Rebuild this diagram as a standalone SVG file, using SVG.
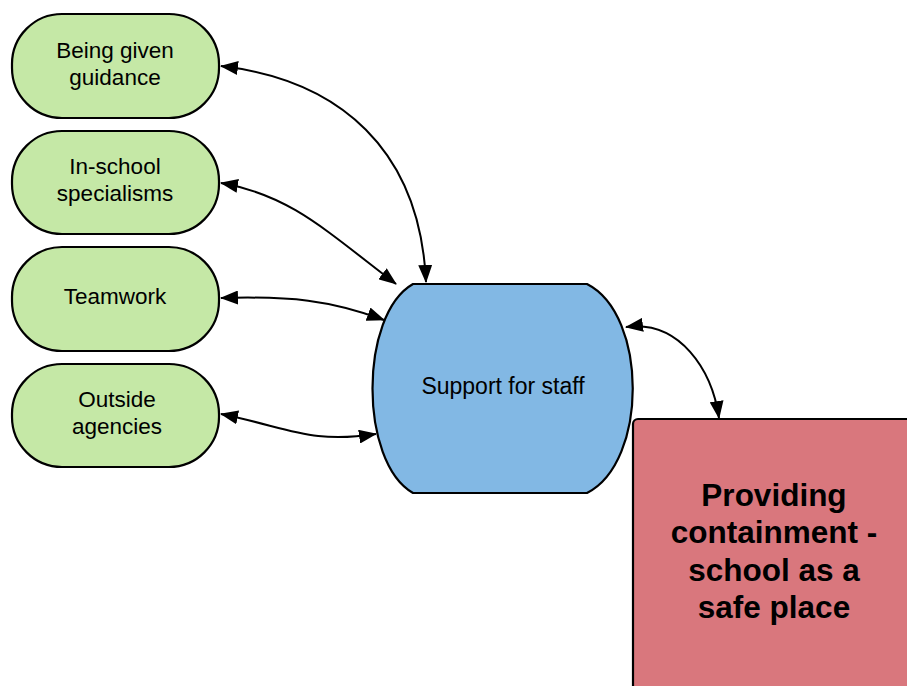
<svg xmlns="http://www.w3.org/2000/svg" width="907" height="686" viewBox="0 0 907 686">
<style>
.g{fill:#c5e8a6;stroke:#000;stroke-width:2.2}
.b{fill:#82b8e4;stroke:#000;stroke-width:2.2;stroke-linejoin:round}
.r{fill:#d9777d;stroke:#000;stroke-width:2.2}
.t{font-family:"Liberation Sans",Arial,sans-serif;font-size:22.5px;fill:#000;text-anchor:middle}
.ts{font-family:"Liberation Sans",Arial,sans-serif;font-size:23px;fill:#000;text-anchor:middle}
.tb{font-family:"Liberation Sans",Arial,sans-serif;font-size:31.5px;font-weight:bold;fill:#000;text-anchor:middle}
.c{fill:none;stroke:#000;stroke-width:2}
</style>
<defs>
<marker id="ah" markerUnits="userSpaceOnUse" markerWidth="18" markerHeight="14" refX="17" refY="7" orient="auto-start-reverse" viewBox="0 0 18 14">
<path d="M0,0 L18,7 L0,14 z" fill="#000"/>
</marker>
</defs>
<g id="connectors">
<path class="c" d="M221,66 C340,80 420,150 426,282" marker-start="url(#ah)" marker-end="url(#ah)"/>
<path class="c" d="M221,183 C290,195 325,230 396,284" marker-start="url(#ah)" marker-end="url(#ah)"/>
<path class="c" d="M221,298 C290,296 330,300 384,320" marker-start="url(#ah)" marker-end="url(#ah)"/>
<path class="c" d="M221,414 C290,428 310,444 376,434" marker-start="url(#ah)" marker-end="url(#ah)"/>
<path class="c" d="M626,327 C680,320 712,370 719,418" marker-start="url(#ah)" marker-end="url(#ah)"/>
</g>
<g id="n1">
<rect class="g" x="12" y="14" width="207" height="104" rx="50" ry="50"/>
<text class="t" x="115" y="58">Being given</text>
<text class="t" x="115" y="85">guidance</text>
</g>
<g id="n2">
<rect class="g" x="12" y="131" width="207" height="103" rx="50" ry="50"/>
<text class="t" x="115" y="174">In-school</text>
<text class="t" x="115" y="201">specialisms</text>
</g>
<g id="n3">
<rect class="g" x="12" y="247" width="207" height="104" rx="50" ry="50"/>
<text class="t" x="115" y="304">Teamwork</text>
</g>
<g id="n4">
<rect class="g" x="12" y="364" width="207" height="103" rx="50" ry="50"/>
<text class="t" x="117" y="407">Outside</text>
<text class="t" x="117" y="434">agencies</text>
</g>
<g id="support">
<path class="b" d="M413,284 L587,284 C648,315 648,462 587,493 L413,493 C359,462 359,315 413,284 Z"/>
<text class="ts" x="503" y="394">Support for staff</text>
</g>
<g id="containment">
<rect class="r" x="633" y="419" width="290" height="290" rx="5" ry="5"/>
<text class="tb" x="774" y="506">Providing</text>
<text class="tb" x="774" y="543">containment -</text>
<text class="tb" x="774" y="581">school as a</text>
<text class="tb" x="774" y="618">safe place</text>
</g>
</svg>
